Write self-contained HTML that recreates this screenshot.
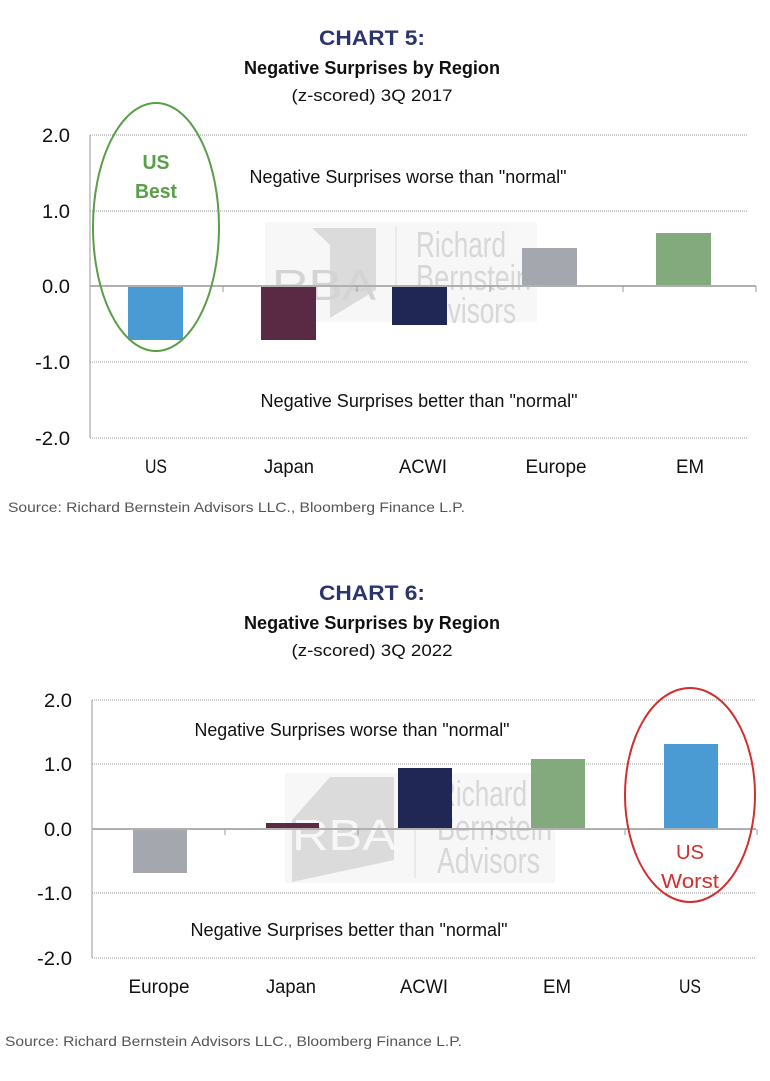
<!DOCTYPE html>
<html><head><meta charset="utf-8"><style>
body{margin:0;background:#fff;}
svg text{font-family:"Liberation Sans Narrow","Liberation Sans",sans-serif;}
</style></head><body>
<svg width="770" height="1076" viewBox="0 0 770 1076" xmlns="http://www.w3.org/2000/svg">
<!-- Chart 5 -->
<text x="372" y="45" text-anchor="middle" font-size="21" font-weight="bold" fill="#2b356b" textLength="106" lengthAdjust="spacingAndGlyphs">CHART 5:</text>
<text x="372" y="74" text-anchor="middle" font-size="18" font-weight="bold" fill="#111" textLength="256" lengthAdjust="spacingAndGlyphs">Negative Surprises by Region</text>
<text x="372" y="101" text-anchor="middle" font-size="17" fill="#111" textLength="161" lengthAdjust="spacingAndGlyphs">(z-scored) 3Q 2017</text>
<g stroke="#999" stroke-dasharray="1,1" stroke-width="1">
<line x1="90" y1="135" x2="748" y2="135"/><line x1="90" y1="211" x2="748" y2="211"/>
<line x1="90" y1="362" x2="748" y2="362"/><line x1="90" y1="438" x2="748" y2="438"/>
</g>
<line x1="90" y1="135" x2="90" y2="438" stroke="#999"/>
<g font-size="19" fill="#111" text-anchor="end">
<text x="70" y="142" textLength="28" lengthAdjust="spacingAndGlyphs">2.0</text><text x="70" y="218" textLength="28" lengthAdjust="spacingAndGlyphs">1.0</text><text x="70" y="293" textLength="28" lengthAdjust="spacingAndGlyphs">0.0</text><text x="70" y="369" textLength="35" lengthAdjust="spacingAndGlyphs">-1.0</text><text x="70" y="445" textLength="35" lengthAdjust="spacingAndGlyphs">-2.0</text>
</g>
<g opacity="0.6">
<rect x="265" y="222" width="272" height="100" fill="#f3f3f3"/>
<polygon points="312,228 376,228 376,290 330,318 330,245" fill="#c4c4c4"/>
<text x="272" y="300" font-size="44" fill="#b8b8b8" textLength="104" lengthAdjust="spacingAndGlyphs">RBA</text>
<line x1="396" y1="226" x2="396" y2="322" stroke="#c4c4c4"/>
<text x="416" y="257" font-size="36" fill="#bdbdbd" textLength="90" lengthAdjust="spacingAndGlyphs">Richard</text>
<text x="416" y="290" font-size="36" fill="#bdbdbd" textLength="115" lengthAdjust="spacingAndGlyphs">Bernstein</text>
<text x="416" y="323" font-size="36" fill="#bdbdbd" textLength="100" lengthAdjust="spacingAndGlyphs">Advisors</text>
</g>
<rect x="128" y="286" width="55" height="54" fill="#4a9bd4"/>
<rect x="261" y="286" width="55" height="54" fill="#5a2a45"/>
<rect x="392" y="286" width="55" height="39" fill="#202754"/>
<rect x="522" y="248" width="55" height="38" fill="#a4a7ae"/>
<rect x="656" y="233" width="55" height="53" fill="#83aa7c"/>
<line x1="90" y1="286" x2="756" y2="286" stroke="#b0b0b0" stroke-width="2"/>
<g stroke="#999"><line x1="223" y1="286" x2="223" y2="292"/><line x1="357" y1="286" x2="357" y2="292"/><line x1="490" y1="286" x2="490" y2="292"/><line x1="623" y1="286" x2="623" y2="292"/><line x1="756" y1="286" x2="756" y2="292"/></g>
<ellipse cx="156" cy="227" rx="63" ry="124" fill="none" stroke="#5a9e48" stroke-width="2"/>
<text x="156" y="169" text-anchor="middle" font-size="20" font-weight="bold" fill="#5a9e48" textLength="27" lengthAdjust="spacingAndGlyphs">US</text>
<text x="156" y="198" text-anchor="middle" font-size="20" font-weight="bold" fill="#5a9e48" textLength="42" lengthAdjust="spacingAndGlyphs">Best</text>
<text x="408" y="183" text-anchor="middle" font-size="18" fill="#111" textLength="317" lengthAdjust="spacingAndGlyphs">Negative Surprises worse than "normal"</text>
<text x="419" y="407" text-anchor="middle" font-size="18" fill="#111" textLength="317" lengthAdjust="spacingAndGlyphs">Negative Surprises better than "normal"</text>
<g font-size="19" fill="#111" text-anchor="middle">
<text x="156" y="473" textLength="22" lengthAdjust="spacingAndGlyphs">US</text><text x="289" y="473" textLength="50" lengthAdjust="spacingAndGlyphs">Japan</text><text x="423" y="473" textLength="48" lengthAdjust="spacingAndGlyphs">ACWI</text><text x="556" y="473" textLength="61" lengthAdjust="spacingAndGlyphs">Europe</text><text x="690" y="473" textLength="28" lengthAdjust="spacingAndGlyphs">EM</text>
</g>
<text x="8" y="512" font-size="14" fill="#555" textLength="457" lengthAdjust="spacingAndGlyphs">Source: Richard Bernstein Advisors LLC., Bloomberg Finance L.P.</text>

<!-- Chart 6 -->
<text x="372" y="600" text-anchor="middle" font-size="21" font-weight="bold" fill="#2b356b" textLength="106" lengthAdjust="spacingAndGlyphs">CHART 6:</text>
<text x="372" y="629" text-anchor="middle" font-size="18" font-weight="bold" fill="#111" textLength="256" lengthAdjust="spacingAndGlyphs">Negative Surprises by Region</text>
<text x="372" y="656" text-anchor="middle" font-size="17" fill="#111" textLength="161" lengthAdjust="spacingAndGlyphs">(z-scored) 3Q 2022</text>
<g stroke="#999" stroke-dasharray="1,1" stroke-width="1">
<line x1="92" y1="700" x2="756" y2="700"/><line x1="92" y1="764" x2="756" y2="764"/>
<line x1="92" y1="893" x2="756" y2="893"/><line x1="92" y1="958" x2="756" y2="958"/>
</g>
<line x1="92" y1="700" x2="92" y2="958" stroke="#999"/>
<g font-size="19" fill="#111" text-anchor="end">
<text x="72" y="707" textLength="28" lengthAdjust="spacingAndGlyphs">2.0</text><text x="72" y="771" textLength="28" lengthAdjust="spacingAndGlyphs">1.0</text><text x="72" y="836" textLength="28" lengthAdjust="spacingAndGlyphs">0.0</text><text x="72" y="900" textLength="35" lengthAdjust="spacingAndGlyphs">-1.0</text><text x="72" y="965" textLength="35" lengthAdjust="spacingAndGlyphs">-2.0</text>
</g>
<g opacity="0.6">
<rect x="285" y="773" width="270" height="110" fill="#f3f3f3"/>
<polygon points="330,777 394,777 394,860 292,882 292,820" fill="#c4c4c4"/>
<text x="292" y="850" font-size="44" fill="#f3f3f3" textLength="104" lengthAdjust="spacingAndGlyphs">RBA</text>
<line x1="415" y1="780" x2="415" y2="878" stroke="#c4c4c4"/>
<text x="437" y="806" font-size="36" fill="#bdbdbd" textLength="90" lengthAdjust="spacingAndGlyphs">Richard</text>
<text x="437" y="840" font-size="36" fill="#bdbdbd" textLength="115" lengthAdjust="spacingAndGlyphs">Bernstein</text>
<text x="437" y="873" font-size="36" fill="#bdbdbd" textLength="103" lengthAdjust="spacingAndGlyphs">Advisors</text>
</g>
<rect x="133" y="829" width="54" height="44" fill="#a4a7ae"/>
<rect x="266" y="823" width="53" height="6" fill="#5a2a45"/>
<rect x="398" y="768" width="54" height="61" fill="#202754"/>
<rect x="531" y="759" width="54" height="70" fill="#83aa7c"/>
<rect x="664" y="744" width="54" height="85" fill="#4a9bd4"/>
<line x1="92" y1="829" x2="756" y2="829" stroke="#b0b0b0" stroke-width="2"/>
<g stroke="#999"><line x1="225" y1="829" x2="225" y2="835"/><line x1="358" y1="829" x2="358" y2="835"/><line x1="492" y1="829" x2="492" y2="835"/><line x1="625" y1="829" x2="625" y2="835"/><line x1="757" y1="829" x2="757" y2="835"/></g>
<ellipse cx="690" cy="795" rx="65" ry="107" fill="none" stroke="#d03030" stroke-width="2"/>
<text x="690" y="859" text-anchor="middle" font-size="20" fill="#d03030" textLength="28" lengthAdjust="spacingAndGlyphs">US</text>
<text x="690" y="888" text-anchor="middle" font-size="20" fill="#d03030" textLength="58" lengthAdjust="spacingAndGlyphs">Worst</text>
<text x="352" y="736" text-anchor="middle" font-size="18" fill="#111" textLength="315" lengthAdjust="spacingAndGlyphs">Negative Surprises worse than "normal"</text>
<text x="349" y="936" text-anchor="middle" font-size="18" fill="#111" textLength="317" lengthAdjust="spacingAndGlyphs">Negative Surprises better than "normal"</text>
<g font-size="19" fill="#111" text-anchor="middle">
<text x="159" y="993" textLength="61" lengthAdjust="spacingAndGlyphs">Europe</text><text x="291" y="993" textLength="50" lengthAdjust="spacingAndGlyphs">Japan</text><text x="424" y="993" textLength="48" lengthAdjust="spacingAndGlyphs">ACWI</text><text x="557" y="993" textLength="28" lengthAdjust="spacingAndGlyphs">EM</text><text x="690" y="993" textLength="22" lengthAdjust="spacingAndGlyphs">US</text>
</g>
<text x="5" y="1046" font-size="14" fill="#555" textLength="457" lengthAdjust="spacingAndGlyphs">Source: Richard Bernstein Advisors LLC., Bloomberg Finance L.P.</text>
</svg>
</body></html>
